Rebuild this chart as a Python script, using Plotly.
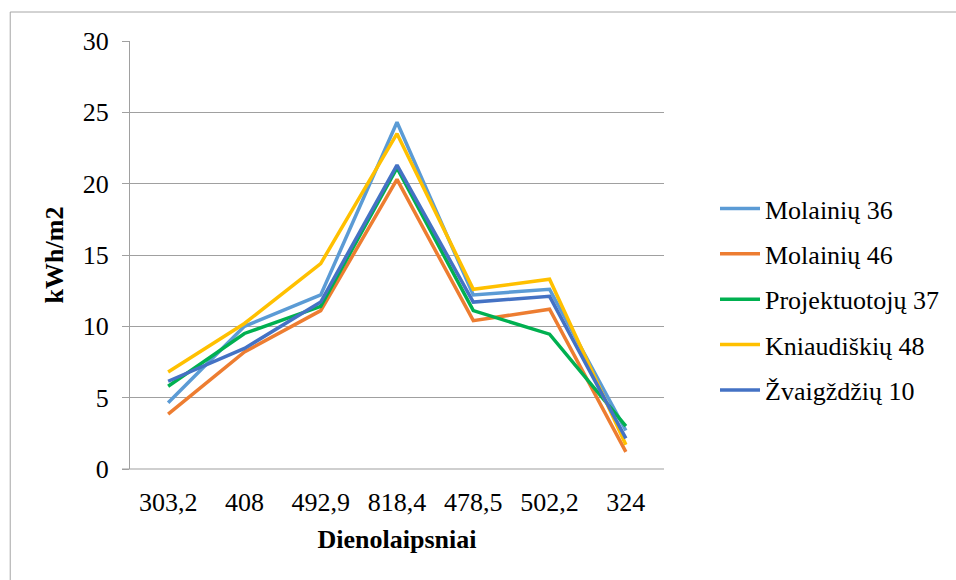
import plotly.graph_objects as go

categories = ["303,2", "408", "492,9", "818,4", "478,5", "502,2", "324"]
molainiu36 = [4.65, 10.0, 12.2, 24.3, 12.2, 12.6, 2.7]
molainiu46 = [3.85, 8.2, 11.1, 20.3, 10.4, 11.2, 1.2]
projektuotoju37 = [5.8, 9.5, 11.4, 21.1, 11.1, 9.45, 3.0]
kniaudiskiu48 = [6.8, 10.2, 14.4, 23.5, 12.6, 13.3, 1.7]
zvaigzdziu10 = [6.15, 8.45, 11.7, 21.3, 11.7, 12.1, 2.15]

series_names = ["Molainių 36", "Molainių 46", "Projektuotojų 37", "Kniaudiškių 48", "Žvaigždžių 10"]
series_values = [molainiu36, molainiu46, projektuotoju37, kniaudiskiu48, zvaigzdziu10]
colors = ["#5B9BD5", "#ED7D31", "#00B050", "#FFC000", "#4472C4"]

FONT = "Liberation Serif, Times New Roman, serif"

fig = go.Figure()
for i, (name, vals, col) in enumerate(zip(series_names, series_values, colors)):
    fig.add_trace(go.Scatter(
        x=categories, y=vals, name=name, mode="lines",
        line=dict(color=col, width=3.5),
        legendgroup=f"g{i}",
    ))

W, H = 956, 580
L, R, T, B = 130, 665, 41, 469
pw, ph = R - L, B - T

def px_x(p):
    return (p - L) / pw

def px_y(p):
    return (B - p) / ph

fig.update_layout(
    width=W, height=H,
    margin=dict(l=L, r=W - R, t=T, b=H - B),
    paper_bgcolor="white", plot_bgcolor="white",
    font=dict(family=FONT, size=26, color="black"),
    showlegend=True,
    legend=dict(
        x=px_x(715), y=px_y(185), xanchor="left", yanchor="top",
        font=dict(family=FONT, size=26, color="black"),
        tracegroupgap=8.6, itemwidth=40,
        bgcolor="rgba(0,0,0,0)",
    ),
    xaxis=dict(
        type="category", showgrid=False, zeroline=False,
        showline=False, ticks="", tickfont=dict(family=FONT, size=26),
        range=[-0.5, 6.5], ticklabelstandoff=15,
        title=dict(text="<b>Dienolaipsniai</b>", font=dict(family=FONT, size=26), standoff=13),
    ),
    yaxis=dict(
        range=[0, 30], dtick=5, tick0=0,
        showgrid=True, gridcolor="#A0A0A0", gridwidth=1,
        zeroline=False, showline=True, linecolor="#A0A0A0", linewidth=1,
        ticks="outside", ticklen=7, tickcolor="#A0A0A0", tickwidth=1,
        tickfont=dict(family=FONT, size=26), ticklabelstandoff=8,
        title=dict(text="<b>kWh/m2</b>", font=dict(family=FONT, size=26), standoff=11),
    ),
    shapes=[
        dict(type="rect", xref="paper", yref="paper",
             x0=px_x(10), y0=px_y(600), x1=px_x(990), y1=px_y(12),
             line=dict(color="#A6A6A6", width=1), layer="below"),
        dict(type="line", xref="paper", yref="paper",
             x0=px_x(122), x1=1, y0=0, y1=0,
             line=dict(color="#A0A0A0", width=1.2)),
    ],
)

fig.write_html("out.html")
